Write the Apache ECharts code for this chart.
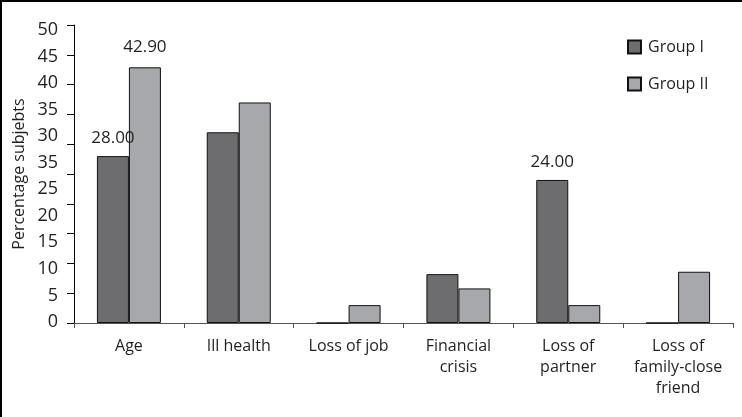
<!DOCTYPE html>
<html>
<head>
<meta charset="utf-8">
<script src="https://cdn.jsdelivr.net/npm/echarts@6/dist/echarts.min.js"></script>
<style>
html,body{margin:0;padding:0;background:#fff;}
#chart{width:742px;height:417px;}
</style>
</head>
<body>
<div id="chart"></div>
<script>
const categories = ['Age', 'Ill health', 'Loss of job', 'Financial\ncrisis', 'Loss of\npartner', 'Loss of\nfamily-close\nfriend'];
const group1 = [28, 32, 0, 8.2, 24, 0];
const group2 = [42.9, 37, 3, 5.8, 3, 8.6];
const group1Labeled = [true, false, false, false, true, false];
const group2Labeled = [true, false, false, false, false, false];
// tick labels as printed in the source, bottom to top
const yTickLabels = ['0', '5', '10', '15', '20', '25', '35', '30', '35', '40', '45', '50'];
const yTickValues = [0, 5, 10, 15, 20, 25, 30, 35, 40, 45, 50, 55];

const FONT = 'Open Sans';
const TXT = '#231f20';

function items(vals, flags) {
  return vals.map((v, i) => ({
    value: v,
    label: { show: flags[i] }
  }));
}

const chart = echarts.init(document.getElementById('chart'));
chart.setOption({
  animation: false,
  textStyle: { fontFamily: FONT },
  grid: [
    { left: 74, right: 9, top: 25, bottom: 94 },
    { left: 74, right: 9, top: 30, bottom: 95 }
  ],
  legend: {
    orient: 'vertical',
    left: 622,
    top: 34,
    itemWidth: 13,
    itemHeight: 13,
    itemGap: 21,
    icon: 'rect',
    textStyle: { fontFamily: FONT, fontSize: 16, color: TXT, padding: [0, 0, 0, 2] },
    data: ['Group I', 'Group II']
  },
  xAxis: [
    {
      type: 'category',
      gridIndex: 0,
      data: categories,
      axisLine: { lineStyle: { color: '#555', width: 1 } },
      axisTick: { show: true, length: 5, lineStyle: { color: '#555' } },
      axisLabel: { color: TXT, fontSize: 16, fontFamily: FONT, lineHeight: 21, margin: 13, interval: 0 }
    },
    { type: 'category', gridIndex: 1, data: categories, show: false }
  ],
  yAxis: [
    {
      type: 'value',
      gridIndex: 0,
      min: 0, max: 50, interval: 5,
      axisLine: { show: true, lineStyle: { color: '#000', width: 1 } },
      axisTick: { show: true, length: 7, lineStyle: { color: '#000' } },
      axisLabel: { show: false },
      splitLine: { show: false },
      name: 'Percentage subjebts',
      nameLocation: 'middle',
      nameGap: 47,
      nameTextStyle: { fontFamily: FONT, fontSize: 16, color: TXT }
    },
    {
      type: 'value',
      gridIndex: 1,
      min: 0, max: 55, interval: 5,
      axisLine: { show: false },
      axisTick: { show: false },
      splitLine: { show: false },
      axisLabel: {
        color: TXT, fontSize: 18, fontFamily: FONT, margin: 16,
        formatter: v => yTickLabels[yTickValues.indexOf(v)] ?? ''
      }
    }
  ],
  graphic: [
    { type: 'line', shape: { x1: 0, y1: 1, x2: 742, y2: 1 }, style: { stroke: '#000', lineWidth: 2 } },
    { type: 'line', shape: { x1: 1, y1: 0, x2: 1, y2: 417 }, style: { stroke: '#000', lineWidth: 2 } }
  ],
  series: [
    {
      name: 'Group I',
      type: 'bar',
      xAxisIndex: 0, yAxisIndex: 0,
      data: items(group1, group1Labeled),
      barWidth: 32,
      barGap: '0%',
      itemStyle: { color: '#6d6d6f', borderColor: '#111', borderWidth: 1 },
      label: { position: 'top', distance: 9, fontSize: 17, color: TXT, fontFamily: FONT, formatter: p => p.value.toFixed(2) }
    },
    {
      name: 'Group II',
      type: 'bar',
      xAxisIndex: 0, yAxisIndex: 0,
      data: items(group2, group2Labeled),
      barWidth: 32,
      barGap: '0%',
      itemStyle: { color: '#a7a8ab', borderColor: '#111', borderWidth: 1 },
      label: { position: 'top', distance: 12, fontSize: 17, color: TXT, fontFamily: FONT, formatter: p => p.value.toFixed(2) }
    }
  ]
});
</script>
</body>
</html>
